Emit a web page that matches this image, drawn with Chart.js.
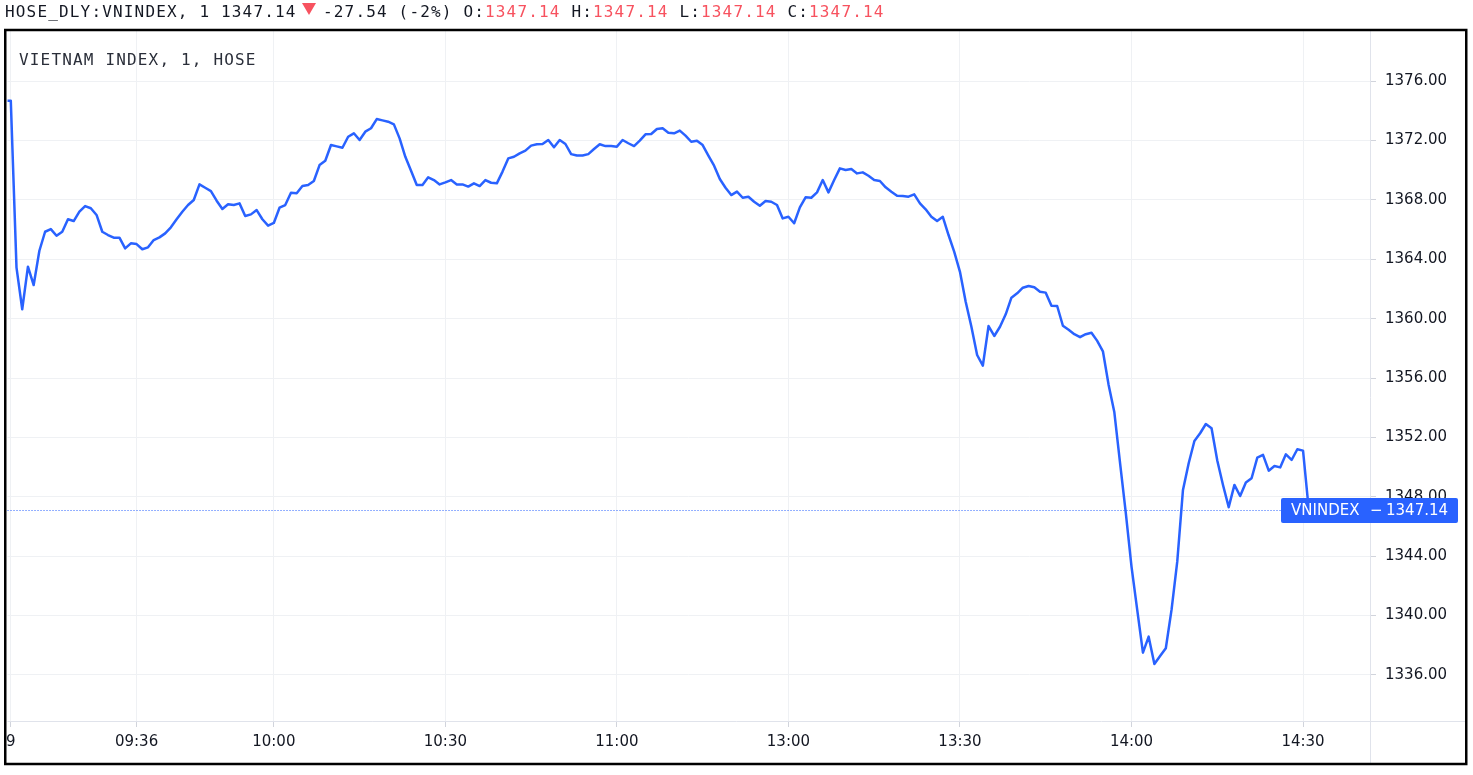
<!DOCTYPE html>
<html>
<head>
<meta charset="utf-8">
<script src="https://cdn.jsdelivr.net/npm/chart.js@4.4.0/dist/chart.umd.min.js"></script>
<style>
  html, body { margin: 0; background: #fff; }
  #contenedor { width: 1473px; height: 775px; }
</style>
</head>
<body>
<div id="contenedor"><canvas id="grafico" width="1473" height="775"></canvas></div>
<script>
// DATOS ---------------------------------------------
// cierre por vela de 1 minuto, vela -2 y -1 = cierre de la sesion anterior
const primeraVela = -2;
const cierres = [
  1374.68, 1374.68,
  1363.43, 1360.63, 1363.50, 1362.26, 1364.57, 1365.85, 1366.03, 1365.58, 1365.85, 1366.69,
  1366.57, 1367.20, 1367.58, 1367.43, 1366.98, 1365.85, 1365.63, 1365.45, 1365.45, 1364.73,
  1365.07, 1365.02, 1364.67, 1364.80, 1365.29, 1365.47, 1365.74, 1366.15, 1366.69, 1367.20,
  1367.65, 1367.99, 1369.04, 1368.81, 1368.59, 1367.94, 1367.38, 1367.70, 1367.65, 1367.76,
  1366.91, 1367.02, 1367.31, 1366.69, 1366.26, 1366.44, 1367.47, 1367.65, 1368.48, 1368.44,
  1368.93, 1369.00, 1369.27, 1370.34, 1370.63, 1371.69, 1371.60, 1371.51, 1372.25, 1372.48,
  1372.03, 1372.59, 1372.82, 1373.44, 1373.35, 1373.26, 1373.08, 1372.14, 1370.90, 1369.96,
  1369.00, 1369.00, 1369.52, 1369.33, 1369.04, 1369.18, 1369.33, 1369.04, 1369.04, 1368.89,
  1369.11, 1368.93, 1369.33, 1369.15, 1369.11, 1369.90, 1370.79, 1370.90, 1371.13, 1371.31,
  1371.65, 1371.74, 1371.76, 1372.03, 1371.54, 1372.03, 1371.76, 1371.08, 1370.98, 1370.98,
  1371.08, 1371.42, 1371.74, 1371.62, 1371.62, 1371.58, 1372.03, 1371.81, 1371.62, 1371.99,
  1372.41, 1372.43, 1372.77, 1372.82, 1372.52, 1372.48, 1372.66, 1372.32, 1371.91, 1371.98,
  1371.69, 1370.98, 1370.30, 1369.40, 1368.81, 1368.32, 1368.55, 1368.14, 1368.21, 1367.87,
  1367.60, 1367.92, 1367.87, 1367.65, 1366.75, 1366.86, 1366.42, 1367.49, 1368.17, 1368.14,
  1368.50, 1369.33, 1368.50, 1369.33, 1370.12, 1370.01, 1370.07, 1369.78, 1369.85, 1369.62,
  1369.33, 1369.27, 1368.84, 1368.55, 1368.28, 1368.26, 1368.21, 1368.37, 1367.76, 1367.36,
  1366.86, 1366.57, 1366.86, 1365.63, 1364.50, 1363.15, 1361.14, 1359.45, 1357.55, 1356.83,
  1359.50, 1358.83, 1359.45, 1360.29, 1361.41, 1361.70, 1362.08, 1362.20, 1362.11, 1361.81,
  1361.75, 1360.87, 1360.85, 1359.52, 1359.25, 1358.95, 1358.75, 1358.95, 1359.05, 1358.50,
  1357.80, 1355.53, 1353.69, 1350.26, 1346.91, 1343.30, 1340.38, 1337.50, 1338.58, 1336.74,
  1337.28, 1337.80, 1340.38, 1343.63, 1348.46, 1350.26, 1351.76, 1352.28, 1352.90, 1352.61,
  1350.44, 1348.80, 1347.30, 1348.80, 1348.05, 1348.96, 1349.25, 1350.64, 1350.82, 1349.76,
  1350.07, 1349.98, 1350.86, 1350.48, 1351.20, 1351.11, 1347.14
];
// marcas del eje de tiempo (numero de vela desde 09:15, sin el descanso del mediodia)
const velasMarca = [-1, 21, 45, 75, 105, 135, 165, 195, 225];
const horasMarca = ['9', '09:36', '10:00', '10:30', '11:00', '13:00', '13:30', '14:00', '14:30'];
const nivelesPrecio = [1336, 1340, 1344, 1348, 1352, 1356, 1360, 1364, 1368, 1372, 1376];
const cabecera = {
  simbolo: 'HOSE_DLY:VNINDEX, 1 1347.14',
  cambio: '-27.54 (-2%)',
  ohlc: [['O:', '1347.14'], ['H:', '1347.14'], ['L:', '1347.14'], ['C:', '1347.14']]
};
const tituloSerie = 'VIETNAM INDEX, 1, HOSE';
const nombreSerie = 'VNINDEX';
// ---------------------------------------------------

const AZUL = '#2962ff';
const ROJO = '#f7525f';
const TEXTO = '#131722';
const puntos = cierres.map((v, i) => ({ x: primeraVela + i, y: v }));

// texto monoespaciado con paso fijo
const letraMono = (ctx, txt, x, y, color) => {
  ctx.fillStyle = color;
  for (let i = 0; i < txt.length; i++) {
    ctx.fillText(txt[i], x + i * 10.8, y);
  }
  return x + txt.length * 10.8;
};

const decoracion = {
  id: 'decoracion',
  afterDraw(c) {
    const ctx = c.ctx;
    const area = c.chartArea;
    const ejeY = c.scales.y;
    ctx.save();
    // separadores de los ejes
    ctx.strokeStyle = '#e0e3eb';
    ctx.lineWidth = 1;
    ctx.beginPath();
    ctx.moveTo(area.right + 0.5, area.top);
    ctx.lineTo(area.right + 0.5, 764);
    ctx.moveTo(area.left, area.bottom + 0.5);
    ctx.lineTo(1466, area.bottom + 0.5);
    ctx.stroke();

    // linea de precio actual
    const ultimo = cierres[cierres.length - 1];
    const py = Math.round(ejeY.getPixelForValue(ultimo));
    ctx.strokeStyle = AZUL;
    ctx.setLineDash([1, 2]);
    ctx.beginPath();
    ctx.moveTo(area.left, py + 0.5);
    ctx.lineTo(1281, py + 0.5);
    ctx.stroke();
    ctx.setLineDash([]);

    // etiqueta de precio
    ctx.fillStyle = AZUL;
    ctx.beginPath();
    ctx.roundRect(1281, py - 12, 177, 25, 2);
    ctx.fill();
    ctx.fillStyle = '#ffffff';
    ctx.font = '15px "DejaVu Sans"';
    ctx.textBaseline = 'middle';
    ctx.textAlign = 'left';
    ctx.fillText(nombreSerie, 1291, py + 1);
    ctx.fillText('\u2212', 1370, py + 1);
    ctx.fillText(ultimo.toFixed(2), 1386, py + 1);

    // cabecera y titulo
    ctx.font = '16px "DejaVu Sans Mono"';
    ctx.textBaseline = 'alphabetic';
    letraMono(ctx, cabecera.simbolo, 5, 17, TEXTO);
    ctx.fillStyle = ROJO;
    ctx.beginPath();
    ctx.moveTo(302, 3);
    ctx.lineTo(316, 3);
    ctx.lineTo(309, 15);
    ctx.closePath();
    ctx.fill();
    let x = letraMono(ctx, cabecera.cambio + ' ', 323, 17, TEXTO);
    cabecera.ohlc.forEach((par, i) => {
      x = letraMono(ctx, (i > 0 ? ' ' : '') + par[0], x, 17, TEXTO);
      x = letraMono(ctx, par[1], x, 17, ROJO);
    });
    letraMono(ctx, tituloSerie, 19, 65, '#2a2e39');

    // marco
    ctx.strokeStyle = '#000000';
    ctx.lineWidth = 2.5;
    ctx.strokeRect(5.25, 30, 1461, 734);
    ctx.restore();
  }
};

const fuenteEje = { family: 'DejaVu Sans', size: 15 };

const configuracion = {
  type: 'line',
  data: {
    datasets: [{
      label: nombreSerie,
      data: puntos,
      borderColor: AZUL,
      borderWidth: 2.5,
      pointRadius: 0,
      tension: 0,
      borderJoinStyle: 'round'
    }]
  },
  options: {
    responsive: false,
    animation: false,
    devicePixelRatio: 1,
    parsing: false,
    layout: { padding: { left: 7, top: 31, right: 7, bottom: 11 } },
    plugins: { legend: { display: false }, tooltip: { enabled: false } },
    scales: {
      x: {
        type: 'linear',
        min: -1.57,
        max: 236.71,
        afterBuildTicks: s => { s.ticks = velasMarca.map(v => ({ value: v })); },
        afterFit: s => { s.height = 43; },
        border: { display: false },
        grid: { color: '#eff1f4', tickColor: '#d1d4dc', tickLength: 6 },
        ticks: {
          autoSkip: false, maxRotation: 0, padding: 6,
          color: TEXTO, font: fuenteEje,
          callback: (v, i) => horasMarca[i]
        }
      },
      y: {
        type: 'linear',
        position: 'right',
        min: 1332.9,
        max: 1379.37,
        afterBuildTicks: s => { s.ticks = nivelesPrecio.map(v => ({ value: v })); },
        afterFit: s => { s.width = 96; },
        border: { display: false },
        grid: { color: '#eff1f4', tickColor: '#d1d4dc', tickLength: 6 },
        ticks: {
          padding: 9, color: TEXTO, font: fuenteEje,
          callback: v => v.toFixed(2)
        }
      }
    }
  },
  plugins: [decoracion]
};

const grafico = new Chart(document.getElementById('grafico'), configuracion);
</script>
</body>
</html>
